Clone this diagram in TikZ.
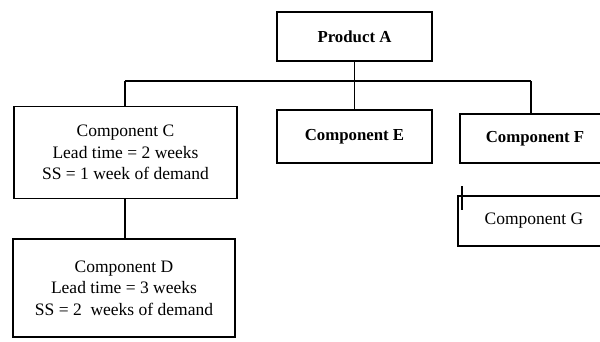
\documentclass[tikz,border=0pt]{standalone}
\usepackage{fontspec}
\setmainfont{Liberation Serif}
\begin{document}
\begin{tikzpicture}[x=1pt,y=-1pt,
  box/.style={draw=black,line width=1.3pt,rectangle,inner sep=0pt,align=center,
    font=\fontsize{17.5}{21.5}\selectfont},
  boldbox/.style={box,font=\fontsize{16.8}{20}\selectfont\bfseries},
  link/.style={draw=black,line width=1.3pt}]
\useasboundingbox (0,0) rectangle (600,341);
\fill[white] (0,0) rectangle (600,341);
\node[boldbox,minimum width=155pt,minimum height=49pt] (A) at (354.5,36.5) {Product A};
\node[box,minimum width=223pt,minimum height=92pt] (C) at (125.5,152.5) {Component C\\Lead time = 2 weeks\\SS = 1 week of demand};
\node[box,minimum width=222pt,minimum height=98pt] (D) at (124,288) {Component D\\Lead time = 3 weeks\\SS = 2\ \ weeks of demand};
\node[boldbox,minimum width=155pt,minimum height=53pt] (E) at (354.5,136.5) {Component E};
\node[boldbox,minimum width=150pt,minimum height=49pt] (F) at (535,138.5) {Component F};
\node[box,minimum width=152pt,minimum height=50pt] (G) at (534,221) {Component G};
\coordinate (busL) at (125,81);
\coordinate (busR) at (531,81);
\coordinate (tickT) at (462,186);
\coordinate (tickB) at (462,210);
\draw[link] (A.south) -- (E.north);
\draw[link] (busL) -- (busR);
\draw[link] (busL) -- (busL |- C.north);
\draw[link] (busR) -- (busR |- F.north);
\draw[link] (C.south -| busL) -- (busL |- D.north);
\draw[link] (tickT) -- (tickB);
\end{tikzpicture}
\end{document}
